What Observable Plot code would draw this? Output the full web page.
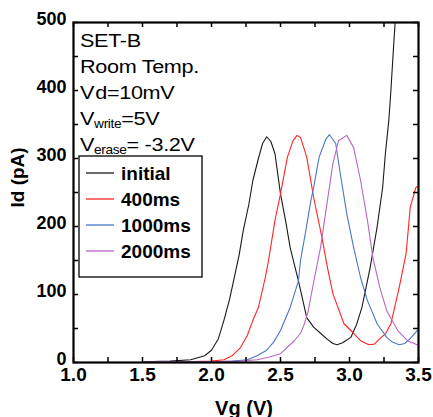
<!DOCTYPE html>
<html>
<head>
<meta charset="utf-8">
<script src="https://cdn.jsdelivr.net/npm/d3@7"></script>
<script src="https://cdn.jsdelivr.net/npm/@observablehq/plot@0.6"></script>
<style>
  html, body { margin: 0; padding: 0; background: #fff; }
  #chart svg { display: block; }
</style>
</head>
<body>
<div id="chart"></div>
<script>
// ---- data ----
const seriesNames = ["initial", "400ms", "1000ms", "2000ms"];
const seriesColors = ["#1a1a1a", "#ff2424", "#4a76c8", "#b866c4"];

const vgInitial = [1.5,1.7,1.85,1.95,2.0,2.05,2.09,2.13,2.16,2.2,2.23,2.27,2.30,2.34,2.37,2.40,2.43,2.46,2.50,2.54,2.57,2.63,2.69,2.74,2.79,2.84,2.88,2.91,2.95,3.01,3.05,3.09,3.15,3.20,3.24,3.26,3.285,3.30,3.315,3.33,3.335];
const idInitial = [1,2,4,10,18,35,62,92,120,158,194,232,268,300,322,332,325,307,248,205,169,120,66,52,43,34,28,26,29,37,55,81,140,199,257,307,356,400,450,498,510];

const vg400 = [1.5,1.8,2.0,2.09,2.15,2.21,2.26,2.30,2.34,2.39,2.41,2.46,2.50,2.55,2.59,2.62,2.645,2.69,2.74,2.80,2.84,2.88,2.96,3.03,3.08,3.14,3.18,3.22,3.26,3.30,3.36,3.41,3.44,3.48,3.5];
const id400 = [1,1,2,4,10,22,40,62,81,125,146,209,248,302,326,334,331,302,243,184,140,101,57,43,32,26,27,35,42,57,110,160,228,257,260];

const vg1000 = [1.5,2.0,2.15,2.26,2.33,2.40,2.45,2.50,2.57,2.63,2.645,2.68,2.72,2.74,2.78,2.83,2.855,2.90,2.93,2.98,3.03,3.08,3.13,3.20,3.27,3.31,3.36,3.40,3.44,3.49];
const id1000 = [1,1,2,4,10,18,30,47,81,120,150,190,238,257,302,329,335,322,282,219,169,125,91,57,37,30,26,28,35,47];

const vg2000 = [1.5,2.0,2.2,2.33,2.42,2.50,2.60,2.645,2.67,2.70,2.74,2.79,2.84,2.88,2.92,2.98,3.03,3.08,3.13,3.17,3.22,3.27,3.35,3.42,3.49,3.5];
const id2000 = [1,1,2,4,8,13,32,43,55,75,118,169,238,293,326,334,316,268,209,154,110,76,47,32,26,25];

const xMajorTicks = [1.0, 1.5, 2.0, 2.5, 3.0, 3.5];
const xMinorTicks = [1.0,1.25,1.5,1.75,2.0,2.25,2.5,2.75,3.0,3.25,3.5];
const yMajorTicks = [0, 100, 200, 300, 400, 500];
const yMinorTicks = [0,50,100,150,200,250,300,350,400,450,500];

const annotations = [
  ["SET-B", "", ""],
  ["Room Temp.", "", ""],
  ["V", "", "d=10mV"],
  ["V", "write", "=5V"],
  ["V", "erase", "= -3.2V"]
];

// ---- build table ----
const vgs = [vgInitial, vg400, vg1000, vg2000];
const ids = [idInitial, id400, id1000, id2000];
const rows = [];
seriesNames.forEach((name, i) => {
  vgs[i].forEach((v, j) => rows.push({series: name, vg: v, id: ids[i][j]}));
});

const font = "'Liberation Sans', Arial, Helvetica, sans-serif";
const W = 433, H = 417, mL = 73, mR = 15, mT = 22, mB = 55;
const innerW = W - mL - mR, innerH = H - mT - mB, tick = 5;

const chart = Plot.plot({
  width: W,
  height: H,
  marginLeft: mL,
  marginRight: mR,
  marginTop: mT,
  marginBottom: mB,
  style: {fontFamily: font, background: "#fff", color: "#000"},
  x: {domain: [1, 3.5]},
  y: {domain: [0, 500]},
  color: {domain: seriesNames, range: seriesColors},
  marks: [
    Plot.line(rows, {x: "vg", y: "id", z: "series", stroke: "series", strokeWidth: 1.1, clip: true}),
    // inward ticks on all four sides
    Plot.tickX(xMinorTicks, {x: d => d, insetTop: innerH - tick, strokeWidth: 1.5}),
    Plot.tickX(xMinorTicks, {x: d => d, insetBottom: innerH - tick, strokeWidth: 1.5}),
    Plot.tickY(yMinorTicks, {y: d => d, insetRight: innerW - tick, strokeWidth: 1.5}),
    Plot.tickY(yMinorTicks, {y: d => d, insetLeft: innerW - tick, strokeWidth: 1.5}),
    Plot.axisX({ticks: xMajorTicks, tickSize: 0, tickPadding: 5, tickFormat: d3.format(".1f"), fontSize: 19, fontWeight: "bold", label: null}),
    Plot.axisY({ticks: yMajorTicks, tickSize: 0, tickPadding: 7, dy: -3, tickFormat: d3.format("d"), fontSize: 18, fontWeight: "bold", label: null}),
    Plot.text(["Vg (V)"], {frameAnchor: "bottom", dx: -2, dy: 52, lineAnchor: "bottom", fontSize: 20, fontWeight: "bold"}),
    Plot.text(["Id (pA)"], {frameAnchor: "left", rotate: -90, dx: -56, dy: 15, fontSize: 19, fontWeight: "bold"}),
    Plot.frame({stroke: "#000", strokeWidth: 2.2})
  ]
});

document.getElementById("chart").appendChild(chart);

// ---- annotations & legend (pixel-placed overlays) ----
const svg = d3.select(chart);
const ann = svg.append("g")
  .attr("font-family", font).attr("fill", "#000").attr("text-anchor", "start")
  .attr("transform", "translate(80,0) scale(1.14,1)");
annotations.forEach((a, i) => {
  const t = ann.append("text")
    .attr("x", 0)
    .attr("y", 47 + i * 26)
    .attr("font-size", 19)
    .attr("letter-spacing", -0.3);
  t.append("tspan").text(a[0]);
  if (a[1]) {
    t.append("tspan").attr("font-size", 12).attr("dy", 3).text(a[1]);
    t.append("tspan").attr("dy", -3).text(a[2]);
  } else if (a[2]) {
    t.append("tspan").attr("dx", 1).text(a[2]);
  }
});

const leg = svg.append("g").attr("font-family", font).attr("text-anchor", "start");
leg.append("rect")
  .attr("x", 79).attr("y", 156).attr("width", 123).attr("height", 121)
  .attr("fill", "#fff").attr("stroke", "#000").attr("stroke-width", 1.3);
seriesNames.forEach((name, i) => {
  const cy = 173 + i * 26;
  leg.append("line")
    .attr("x1", 86).attr("x2", 114).attr("y1", cy).attr("y2", cy)
    .attr("stroke", seriesColors[i]).attr("stroke-width", 1.3);
  leg.append("text")
    .attr("x", 121).attr("y", cy).attr("dy", "0.35em")
    .attr("font-size", 19).attr("font-weight", "bold")
    .attr("fill", "#000")
    .text(name);
});
</script>
</body>
</html>
